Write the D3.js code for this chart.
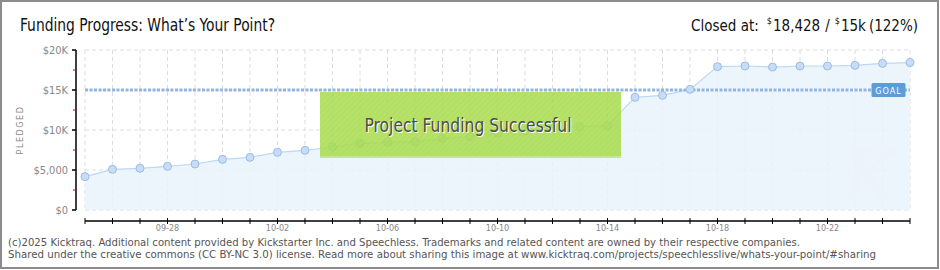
<!DOCTYPE html>
<html>
<head>
<meta charset="utf-8">
<script src="https://cdn.jsdelivr.net/npm/d3@7"></script>
<style>
  body { margin: 0; background: #fff; }
  svg { display: block; }
  text { font-family: "DejaVu Sans Condensed", "Liberation Sans Narrow", "DejaVu Sans", sans-serif; }
</style>
</head>
<body>
<div id="graph"></div>
<script>
// daily pledged totals, 2025-09-25 .. 2025-10-25
var startDate = "2025-09-25";
var pledged = [4170, 5080, 5210, 5460, 5750, 6330, 6580, 7210, 7460, 7875,
               8330, 8460, 8540, 8920, 9170, 9620, 9900, 10200, 10420, 10540,
               14080, 14330, 15080, 17920, 18000, 17870, 18000, 18000, 18080, 18330, 18428];
var goal = 15000;
var yTicks = [0, 5000, 10000, 15000, 20000];
var yTickLabels = ["$0", "$5,000", "$10K", "$15K", "$20K"];
var yMinorTicks = [2500, 7500, 12500, 17500];
var xLabelDates = ["2025-09-28", "2025-10-02", "2025-10-06", "2025-10-10", "2025-10-14", "2025-10-18", "2025-10-22"];

var width = 940, height = 270;
var parse = d3.utcParse("%Y-%m-%d");
var t0 = parse(startDate);
var data = pledged.map(function (v, i) { return {date: d3.utcDay.offset(t0, i), v: v}; });

var svg = d3.select("#graph").append("svg")
  .attr("width", width)
  .attr("height", height);

// frame
svg.append("rect")
  .attr("x", 1).attr("y", 1)
  .attr("width", width - 3).attr("height", height - 3)
  .style("fill", "#fff").style("stroke", "#8c8c8c").style("stroke-width", 2);

var x = d3.scaleUtc()
  .domain([data[0].date, data[data.length - 1].date])
  .range([85, 910]);
var y = d3.scaleLinear()
  .domain([0, 20000])
  .range([210, 50]);

// hatch for the success banner
var defs = svg.append("defs");
var pat = defs.append("pattern")
  .attr("id", "hatch")
  .attr("width", 4).attr("height", 4)
  .attr("patternUnits", "userSpaceOnUse")
  .attr("patternTransform", "rotate(45)");
pat.append("rect").attr("width", 4).attr("height", 4).style("fill", "#a7db4b");
pat.append("line").attr("x1", 0).attr("y1", 0).attr("x2", 0).attr("y2", 4)
  .style("stroke", "#b1e05a").style("stroke-width", 1.5);

// title
svg.append("text")
  .attr("x", 20).attr("y", 31)
  .attr("textLength", 255).attr("lengthAdjust", "spacingAndGlyphs")
  .style("font-size", "17px").style("fill", "#111")
  .text("Funding Progress: What\u2019s Your Point?");

// "Closed at" summary, measured and laid out right to left from x=918
var closedParts = [
  {t: "Closed at:", small: false, gap: 8},
  {t: "$", small: true, gap: 1},
  {t: "18,428", small: false, gap: 5},
  {t: "/", small: false, gap: 5},
  {t: "$", small: true, gap: 1},
  {t: "15k", small: false, gap: 3},
  {t: "(122%)", small: false, gap: 0}
];
var closedSel = svg.append("g").selectAll("text")
  .data(closedParts).enter().append("text")
  .attr("y", function (d) { return d.small ? 24 : 31; })
  .style("font-size", function (d) { return d.small ? "9px" : "15px"; })
  .style("fill", "#111")
  .text(function (d) { return d.t; });
var cx = 918;
closedSel.nodes().slice().reverse().forEach(function (n, i) {
  var d = closedParts[closedParts.length - 1 - i];
  cx -= n.getComputedTextLength();
  d3.select(n).attr("x", cx);
  if (i < closedParts.length - 1) cx -= closedParts[closedParts.length - 2 - i].gap;
});

// grid
var days = data.map(function (d) { return d.date; });
svg.append("g").selectAll("line")
  .data(days).enter().append("line")
  .attr("x1", function (d) { return x(d); })
  .attr("x2", function (d) { return x(d); })
  .attr("y1", y(20000)).attr("y2", y(0))
  .style("stroke", "#dcdcdc").style("stroke-dasharray", "4,3");
svg.append("g").selectAll("line")
  .data(yTicks).enter().append("line")
  .attr("x1", 85).attr("x2", 910)
  .attr("y1", function (d) { return y(d); })
  .attr("y2", function (d) { return y(d); })
  .style("stroke", "#dcdcdc").style("stroke-dasharray", "4,3");

// area + line
var area = d3.area()
  .x(function (d) { return x(d.date); })
  .y0(y(0))
  .y1(function (d) { return y(d.v); });
svg.append("path").datum(data)
  .attr("d", area)
  .style("fill", "#e9f2fc").style("fill-opacity", 0.85);

// faint watermark
svg.append("text")
  .attr("x", 870).attr("y", 200)
  .style("text-anchor", "middle")
  .style("font-family", "DejaVu Serif, serif")
  .style("font-style", "italic")
  .style("font-size", "70px")
  .style("fill", "#edf3fa")
  .text("K");

svg.append("path").datum(data)
  .attr("d", d3.line().x(function (d) { return x(d.date); }).y(function (d) { return y(d.v); }))
  .style("fill", "none").style("stroke", "#bcd9f4").style("stroke-width", 1.2);

// goal line
svg.append("line")
  .attr("x1", 85).attr("x2", 910)
  .attr("y1", y(goal)).attr("y2", y(goal))
  .style("stroke", "#93b6e0").style("stroke-width", 3)
  .style("stroke-dasharray", "3,1.5");

// points
svg.append("g").selectAll("circle")
  .data(data).enter().append("circle")
  .attr("cx", function (d) { return x(d.date); })
  .attr("cy", function (d) { return y(d.v); })
  .attr("r", 4)
  .style("fill", "#c6ddf7").style("stroke", "#9dbce0").style("stroke-width", 1);

// goal tag
var gx = x(data[data.length - 2].date) - 11;
svg.append("rect")
  .attr("x", gx).attr("y", y(goal) - 7)
  .attr("width", 34).attr("height", 14)
  .attr("rx", 1.5)
  .style("fill", "#5d9cdb");
svg.append("text")
  .attr("x", gx + 17).attr("y", y(goal) + 3.5)
  .style("text-anchor", "middle")
  .style("font-size", "9px").style("letter-spacing", "1px")
  .style("fill", "#fff")
  .text("GOAL");

// success banner
svg.append("rect")
  .attr("x", 320).attr("y", 92)
  .attr("width", 301).attr("height", 66)
  .style("fill", "url(#hatch)").style("opacity", 0.86);
svg.append("rect")
  .attr("x", 320).attr("y", 156)
  .attr("width", 301).attr("height", 2)
  .style("fill", "#c4e88a");
svg.append("text")
  .attr("x", 469).attr("y", 133)
  .attr("textLength", 207).attr("lengthAdjust", "spacingAndGlyphs")
  .style("text-anchor", "middle")
  .style("font-size", "19px").style("fill", "#fff")
  .text("Project Funding Successful");
svg.append("text")
  .attr("x", 468).attr("y", 132)
  .attr("textLength", 207).attr("lengthAdjust", "spacingAndGlyphs")
  .style("text-anchor", "middle")
  .style("font-size", "19px").style("fill", "#4d4d4d")
  .text("Project Funding Successful");

// y axis
var yAxis = svg.append("g").attr("transform", "translate(76,0)");
yAxis.append("line").attr("y1", y(20000)).attr("y2", y(0)).style("stroke", "#000").style("stroke-width", 1.5);
yAxis.selectAll(".maj").data(yTicks).enter().append("line")
  .attr("x1", -4).attr("x2", 0)
  .attr("y1", function (d) { return y(d); })
  .attr("y2", function (d) { return y(d); })
  .style("stroke", "#000").style("stroke-width", 1.5);
yAxis.selectAll(".min").data(yMinorTicks).enter().append("line")
  .attr("x1", -3).attr("x2", 0)
  .attr("y1", function (d) { return y(d); })
  .attr("y2", function (d) { return y(d); })
  .style("stroke", "#d00").style("stroke-width", 1);
yAxis.selectAll("text").data(yTicks).enter().append("text")
  .attr("x", -8)
  .attr("y", function (d) { return y(d) + 4; })
  .style("text-anchor", "end")
  .style("font-size", "11px").style("fill", "#888")
  .text(function (d, i) { return yTickLabels[i]; });

svg.append("text")
  .attr("transform", "translate(23,130) rotate(-90)")
  .style("text-anchor", "middle")
  .style("font-size", "9px").style("letter-spacing", "1.5px")
  .style("fill", "#888")
  .text("PLEDGED");

// x axis
var xAxis = svg.append("g").attr("transform", "translate(0,221)");
xAxis.append("line").attr("x1", 85).attr("x2", 910).style("stroke", "#000").style("stroke-width", 1.5);
xAxis.selectAll(".tk").data(days).enter().append("line")
  .attr("x1", function (d) { return x(d); })
  .attr("x2", function (d) { return x(d); })
  .attr("y1", -3).attr("y2", 3)
  .style("stroke", "#000").style("stroke-width", 1);
var fmt = d3.utcFormat("%m-%d");
xAxis.selectAll("text").data(xLabelDates.map(parse)).enter().append("text")
  .attr("x", function (d) { return x(d); })
  .attr("y", 10)
  .style("text-anchor", "middle")
  .style("font-size", "9px").style("fill", "#888")
  .text(function (d) { return fmt(d); });

// footer
svg.append("text")
  .attr("x", 8).attr("y", 246)
  .attr("textLength", 792).attr("lengthAdjust", "spacingAndGlyphs")
  .style("font-size", "11px").style("fill", "#555")
  .text("(c)2025 Kicktraq. Additional content provided by Kickstarter Inc. and Speechless. Trademarks and related content are owned by their respective companies.");
svg.append("text")
  .attr("x", 8).attr("y", 258)
  .attr("textLength", 868).attr("lengthAdjust", "spacingAndGlyphs")
  .style("font-size", "11px").style("fill", "#555")
  .text("Shared under the creative commons (CC BY-NC 3.0) license. Read more about sharing this image at www.kicktraq.com/projects/speechlesslive/whats-your-point/#sharing");
</script>
</body>
</html>
